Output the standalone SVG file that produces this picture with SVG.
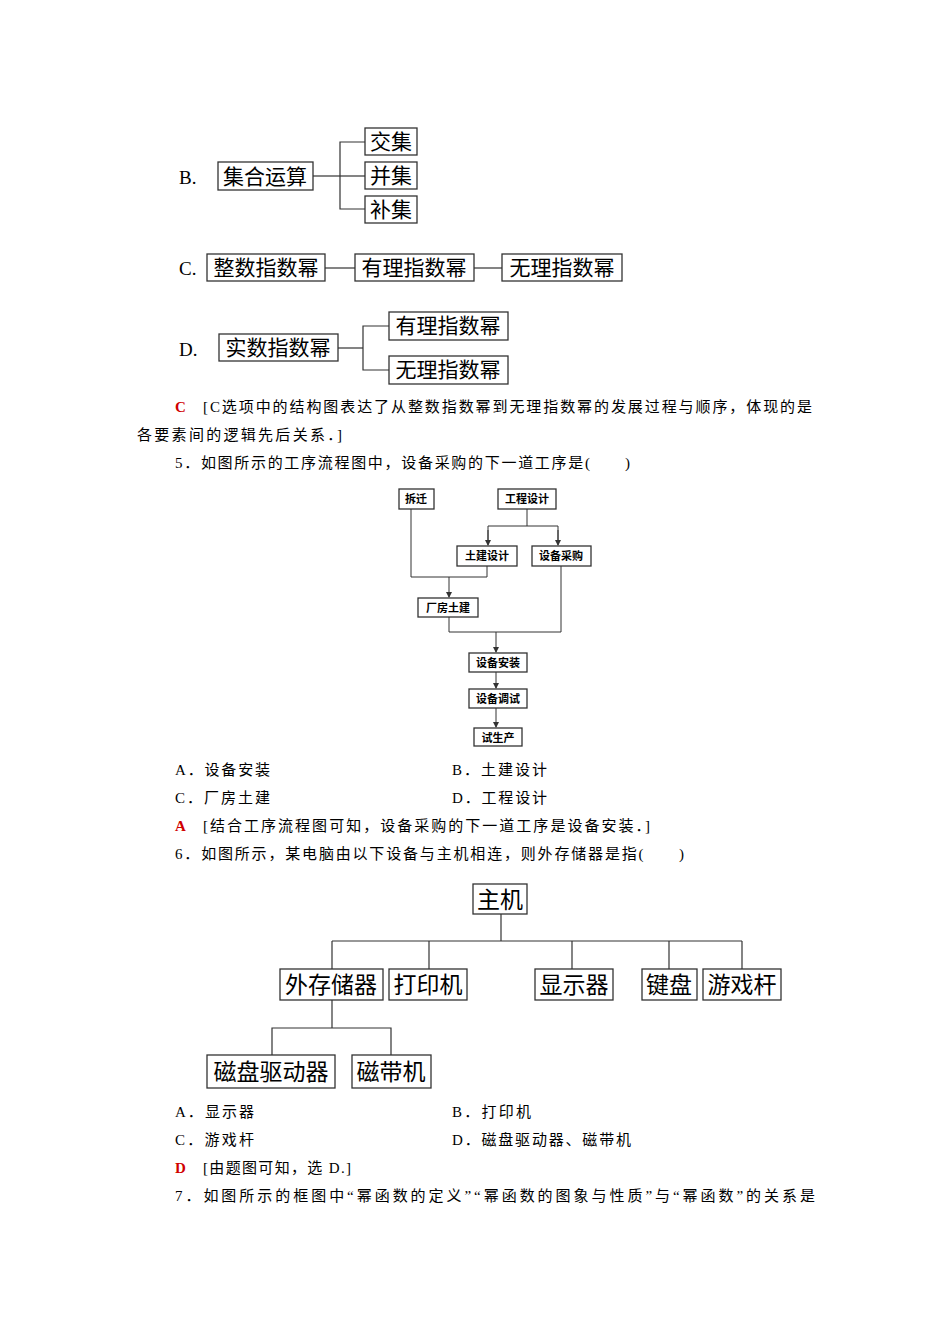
<svg xmlns="http://www.w3.org/2000/svg" width="950" height="1344" viewBox="0 0 950 1344">
<style>
text{font-family:"Liberation Serif","Noto Sans CJK SC",serif;fill:#000}
.t{font-size:15px}
.r{fill:#d00000;font-weight:bold}
.b rect{fill:#fff;stroke:#333;stroke-width:1.3}
.b text{text-anchor:middle}
.c line,.c polyline{stroke:#333;stroke-width:1.2;fill:none}
.a line,.a polyline{stroke:#333;stroke-width:1;fill:none}
.s{font-size:11px;font-weight:bold}
.m{font-size:21px}
</style>
<defs><marker id="ar" markerWidth="6" markerHeight="6" refX="5" refY="3" orient="auto"><path d="M0,0L6,3L0,6z" fill="#333"/></marker></defs>
<rect width="950" height="1344" fill="#fff"/>
<text x="179" y="184" style="font-size:19px">B.</text>
<text x="179" y="275" style="font-size:19px">C.</text>
<text x="179" y="356" style="font-size:19px">D.</text>
<g class="c">
<polyline points="313,176 340,176"/><polyline points="365,142 340,142 340,209 365,209"/><line x1="340" y1="176" x2="365" y2="176"/>
<line x1="325" y1="268" x2="355" y2="268"/><line x1="474" y1="268" x2="502" y2="268"/>
<line x1="338" y1="348" x2="363" y2="348"/><polyline points="389,326 363,326 363,370 389,370"/>
</g>
<g class="b m">
<g id="b1"><rect x="218" y="162" width="95" height="28"/><text x="265" y="184">集合运算</text></g>
<g id="b2"><rect x="365" y="128" width="52" height="27"/><text x="391" y="149">交集</text></g>
<g id="b3"><rect x="365" y="162" width="52" height="27"/><text x="391" y="183">并集</text></g>
<g id="b4"><rect x="365" y="196" width="52" height="27"/><text x="391" y="217">补集</text></g>
<g id="c1"><rect x="207" y="254" width="118" height="27"/><text x="266" y="275">整数指数幂</text></g>
<g id="c2"><rect x="355" y="254" width="119" height="27"/><text x="414" y="275">有理指数幂</text></g>
<g id="c3"><rect x="502" y="254" width="120" height="27"/><text x="562" y="275">无理指数幂</text></g>
<g id="d1"><rect x="219" y="334" width="119" height="27"/><text x="278" y="355">实数指数幂</text></g>
<g id="d2"><rect x="389" y="312" width="119" height="28"/><text x="448" y="333">有理指数幂</text></g>
<g id="d3"><rect x="389" y="356" width="119" height="28"/><text x="448" y="377">无理指数幂</text></g>
</g>
<text x="175" y="412" class="t r">C</text>
<text x="203" y="412" class="t" textLength="609" lengthAdjust="spacing">[C选项中的结构图表达了从整数指数幂到无理指数幂的发展过程与顺序，体现的是</text>
<text x="137" y="440" class="t" textLength="205" lengthAdjust="spacing">各要素间的逻辑先后关系．]</text>
<text x="175" y="468" class="t" textLength="455" lengthAdjust="spacing">5．如图所示的工序流程图中，设备采购的下一道工序是(　　)</text>
<g class="a">
<polyline points="527,509 527,526"/><polyline points="488,544 488,526 558,526 558,544" /><line x1="488" y1="530" x2="488" y2="545" marker-end="url(#ar)"/><line x1="558" y1="530" x2="558" y2="545" marker-end="url(#ar)"/>
<polyline points="411,509 411,577 487,577 487,566"/><line x1="449" y1="577" x2="449" y2="597" marker-end="url(#ar)"/>
<polyline points="449,617 449,632 561,632 561,566"/><line x1="496" y1="632" x2="496" y2="652" marker-end="url(#ar)"/>
<line x1="496" y1="672" x2="496" y2="688" marker-end="url(#ar)"/><line x1="496" y1="708" x2="496" y2="727" marker-end="url(#ar)"/>
</g>
<g class="b s">
<g id="f1"><rect x="399" y="489" width="35" height="20"/><text x="416" y="503">拆迁</text></g>
<g id="f2"><rect x="498" y="489" width="58" height="20"/><text x="527" y="503">工程设计</text></g>
<g id="f3"><rect x="457" y="546" width="60" height="20"/><text x="487" y="560">土建设计</text></g>
<g id="f4"><rect x="532" y="546" width="59" height="20"/><text x="561" y="560">设备采购</text></g>
<g id="f5"><rect x="418" y="598" width="60" height="19"/><text x="448" y="612">厂房土建</text></g>
<g id="f6"><rect x="469" y="653" width="58" height="19"/><text x="498" y="667">设备安装</text></g>
<g id="f7"><rect x="469" y="689" width="58" height="19"/><text x="498" y="703">设备调试</text></g>
<g id="f8"><rect x="474" y="728" width="48" height="18"/><text x="498" y="742">试生产</text></g>
</g>
<text x="175" y="775" class="t" textLength="95" lengthAdjust="spacing">A．设备安装</text><text x="452" y="775" class="t" textLength="95" lengthAdjust="spacing">B．土建设计</text>
<text x="175" y="803" class="t" textLength="95" lengthAdjust="spacing">C．厂房土建</text><text x="452" y="803" class="t" textLength="95" lengthAdjust="spacing">D．工程设计</text>
<text x="175" y="831" class="t r">A</text><text x="203" y="831" class="t" textLength="447" lengthAdjust="spacing">[结合工序流程图可知，设备采购的下一道工序是设备安装．]</text>
<text x="175" y="859" class="t" textLength="509" lengthAdjust="spacing">6．如图所示，某电脑由以下设备与主机相连，则外存储器是指(　　)</text>
<g class="c">
<line x1="501" y1="914" x2="501" y2="941"/><line x1="332" y1="941" x2="742" y2="941"/>
<line x1="332" y1="941" x2="332" y2="969"/><line x1="429" y1="941" x2="429" y2="969"/><line x1="572" y1="941" x2="572" y2="969"/><line x1="669" y1="941" x2="669" y2="969"/><line x1="742" y1="941" x2="742" y2="969"/>
<line x1="332" y1="1000" x2="332" y2="1028"/><polyline points="272,1055 272,1028 391,1028 391,1055"/>
</g>
<g class="b" style="font-size:23px">
<g id="t1"><rect x="473" y="884" width="54" height="30"/><text x="500" y="908">主机</text></g>
<g id="t2"><rect x="280" y="969" width="103" height="31"/><text x="331" y="993">外存储器</text></g>
<g id="t3"><rect x="389" y="969" width="78" height="31"/><text x="428" y="993">打印机</text></g>
<g id="t4"><rect x="535" y="969" width="78" height="31"/><text x="574" y="993">显示器</text></g>
<g id="t5"><rect x="642" y="969" width="55" height="31"/><text x="669" y="993">键盘</text></g>
<g id="t6"><rect x="703" y="969" width="78" height="31"/><text x="742" y="993">游戏杆</text></g>
<g id="t7"><rect x="207" y="1055" width="128" height="33"/><text x="271" y="1080">磁盘驱动器</text></g>
<g id="t8"><rect x="352" y="1055" width="79" height="33"/><text x="391" y="1080">磁带机</text></g>
</g>
<text x="175" y="1117" class="t" textLength="79" lengthAdjust="spacing">A．显示器</text><text x="452" y="1117" class="t" textLength="79" lengthAdjust="spacing">B．打印机</text>
<text x="175" y="1145" class="t" textLength="79" lengthAdjust="spacing">C．游戏杆</text><text x="452" y="1145" class="t" textLength="179" lengthAdjust="spacing">D．磁盘驱动器、磁带机</text>
<text x="175" y="1173" class="t r">D</text><text x="203" y="1173" class="t" textLength="148" lengthAdjust="spacing">[由题图可知，选 D.]</text>
<text x="175" y="1201" class="t" textLength="640" lengthAdjust="spacing">7．如图所示的框图中“幂函数的定义”“幂函数的图象与性质”与“幂函数”的关系是</text>
</svg>
